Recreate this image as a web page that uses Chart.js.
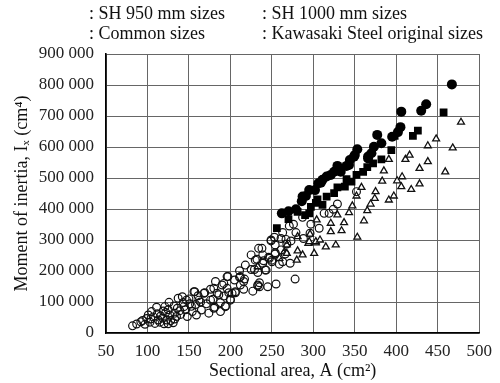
<!DOCTYPE html>
<html>
<head>
<meta charset="utf-8" />
<title>Moment of inertia vs sectional area</title>
<script src="https://cdn.jsdelivr.net/npm/chart.js@4.4.1/dist/chart.umd.min.js"></script>
<style>
	html, body { margin: 0; padding: 0; background: #fff; }
	#wrap { width: 500px; height: 383px; position: relative; }
</style>
</head>
<body>
<div id="wrap"><canvas id="chart"></canvas></div>
<script>

// legend texts (the original has no marker images next to them)
var legendRow1 = [": SH 950 mm sizes", ": SH 1000 mm sizes"]
var legendRow2 = [": Common sizes", ": Kawasaki Steel original sizes"]

var xTicks = [50, 100, 150, 200, 250, 300, 350, 400, 450, 500]
var yTicks = [0, 100000, 200000, 300000, 400000, 500000, 600000, 700000, 800000, 900000]

// [sectional area cm2, moment of inertia cm4]
var sh950 = [[262,386000],[270,393000],[279,399000],[286,425000],[287,440000],[291,442000],[295,461000],[302,461000],[306,483000],[309,485000],[311,494000],[316,505000],[321,510000],[325,520000],[329,539000],[333,520000],[340,539000],[343,542000],[344,558000],[349,569000],[350,574000],[353,593000],[366,563000],[366,569000],[370,580000],[373,601000],[377,639000],[382,612000],[395,633000],[402,648000],[405,664000],[406,714000],[430,717000],[436,738000],[467,802000]]

var sh1000 = [[256,338000],[270,367000],[281,391000],[290,380000],[295,386000],[297,407000],[303,420000],[305,431000],[311,413000],[316,440000],[325,451000],[329,470000],[338,472000],[340,496000],[346,488000],[352,510000],[360,520000],[365,535000],[372,547000],[382,560000],[394,590000],[398,636000],[420,636000],[426,653000],[457,712000]]

var common = [[82,23000],[87,29000],[92,36000],[94,40000],[97,28000],[99,47000],[101,58000],[103,35000],[104,45000],[105,69000],[107,52000],[109,31000],[111,83000],[112,62000],[113,42000],[115,35000],[116,55000],[118,48000],[119,71000],[120,30000],[121,85000],[122,66000],[123,42000],[125,75000],[125,30000],[126,99000],[127,58000],[128,40000],[131,33000],[132,87000],[133,64000],[133,45000],[135,53000],[136,80000],[137,112000],[139,72000],[140,60000],[142,117000],[143,98000],[144,85000],[146,75000],[147,106000],[148,53000],[150,110000],[151,94000],[153,86000],[154,69000],[156,133000],[157,133000],[158,92000],[159,58000],[161,120000],[162,106000],[164,100000],[165,74000],[168,128000],[169,130000],[171,94000],[174,64000],[176,141000],[176,106000],[179,109000],[180,80000],[180,144000],[181,83000],[182,166000],[184,128000],[186,123000],[188,69000],[188,98000],[190,155000],[192,119000],[192,160000],[194,87000],[194,85000],[196,182000],[196,144000],[197,182000],[198,130000],[200,109000],[200,106000],[202,128000],[205,171000],[206,130000],[206,133000],[211,201000],[211,180000],[212,182000],[212,155000],[216,141000],[216,166000],[217,174000],[218,219000],[225,252000],[225,205000],[227,135000],[229,205000],[230,235000],[232,238000],[233,195000],[233,152000],[233,155000],[234,273000],[235,149000],[235,162000],[238,273000],[239,252000],[239,225000],[240,233000],[242,203000],[243,203000],[245,149000],[246,244000],[247,241000],[249,297000],[249,300000],[250,235000],[250,230000],[253,309000],[254,259000],[254,255000],[254,284000],[255,158000],[259,222000],[261,305000],[261,268000],[263,324000],[263,230000],[266,255000],[267,302000],[268,287000],[271,345000],[272,225000],[273,297000],[276,351000],[278,174000],[279,324000],[287,373000],[288,305000],[296,322000],[297,351000],[307,338000],[313,386000],[319,386000],[324,399000],[329,416000],[352,456000]]

var kawasaki = [[233,214000],[259,241000],[265,262000],[268,257000],[268,284000],[280,235000],[281,265000],[281,311000],[287,252000],[294,289000],[295,295000],[296,319000],[301,257000],[303,291000],[303,295000],[304,365000],[308,300000],[315,278000],[321,327000],[321,354000],[327,284000],[329,381000],[334,330000],[337,356000],[343,388000],[347,410000],[352,442000],[353,309000],[358,470000],[361,362000],[365,395000],[369,416000],[374,434000],[375,456000],[383,490000],[385,523000],[391,429000],[391,560000],[397,442000],[401,491000],[406,472000],[407,504000],[411,560000],[416,574000],[418,463000],[428,481000],[428,531000],[438,553000],[438,604000],[448,626000],[459,520000],[468,597000],[478,680000]]

function toPoints(list) {
	return list.map(function (p) { return {x: p[0], y: p[1]} })
}

var serif = "'Liberation Serif', 'DejaVu Serif', serif"

// draws the two row legend text at the top
var legendText = {
	id: "legendText",
	afterDraw: function (chart) {
		var ctx = chart.ctx
		ctx.save()
		ctx.fillStyle = "#111"
		ctx.font = "18px " + serif
		ctx.textBaseline = "middle"
		ctx.fillText(legendRow1[0], 89, 14)
		ctx.fillText(legendRow1[1], 262, 14)
		ctx.fillText(legendRow2[0], 89, 34)
		ctx.fillText(legendRow2[1], 262, 34)
		ctx.restore()
	}
}

new Chart("chart", {
	type: "scatter",
	data: {
		datasets: [{
			label: "SH 950 mm sizes",
			data: toPoints(sh950),
			pointStyle: "circle",
			pointRadius: 5,
			backgroundColor: "#000",
			borderColor: "#000",
			borderWidth: 0
		}, {
			label: "SH 1000 mm sizes",
			data: toPoints(sh1000),
			pointStyle: "rect",
			pointRadius: 5.5,
			backgroundColor: "#000",
			borderColor: "#000",
			borderWidth: 0
		}, {
			label: "Common sizes",
			data: toPoints(common),
			pointStyle: "circle",
			pointRadius: 3.9,
			backgroundColor: "rgba(255,255,255,0)",
			borderColor: "#111",
			borderWidth: 1.2
		}, {
			label: "Kawasaki Steel original sizes",
			data: toPoints(kawasaki),
			pointStyle: "triangle",
			pointRadius: 4,
			backgroundColor: "#fff",
			borderColor: "#111",
			borderWidth: 1.3
		}]
	},
	options: {
		responsive: true,
		maintainAspectRatio: false,
		animation: false,
		layout: {padding: {top: 54, right: 17, left: 0, bottom: 0}},
		plugins: {
			legend: {display: false},
			tooltip: {enabled: false}
		},
		scales: {
			x: {
				type: "linear",
				min: 50,
				max: 500,
				afterBuildTicks: function (s) { s.ticks = xTicks.map(function (v) { return {value: v} }) },
				afterFit: function (s) { s.height = 50 },
				grid: {color: "#666", lineWidth: 1, drawTicks: false},
				border: {color: "#000", width: 1.6},
				ticks: {color: "#222", padding: 8, font: {family: serif, size: 17}, maxRotation: 0},
				title: {
					display: true,
					text: "Sectional area, A (cm²)",
					color: "#111",
					font: {family: serif, size: 18},
					padding: {top: 0, bottom: 1}
				}
			},
			y: {
				min: 0,
				max: 900000,
				afterBuildTicks: function (s) { s.ticks = yTicks.map(function (v) { return {value: v} }) },
				afterFit: function (s) { s.width = 106 },
				grid: {color: "#666", lineWidth: 1, drawTicks: false},
				border: {color: "#000", width: 1.6},
				ticks: {
					color: "#222",
					padding: 12,
					font: {family: serif, size: 17},
					callback: function (v) { return v.toLocaleString("en-US").replace(/,/g, " ") }
				},
				title: {
					display: true,
					text: "Moment of inertia, Iₓ (cm⁴)",
					color: "#111",
					font: {family: serif, size: 18},
					padding: {top: 11, bottom: 0}
				}
			}
		}
	},
	plugins: [legendText]
})
</script>
</body>
</html>
